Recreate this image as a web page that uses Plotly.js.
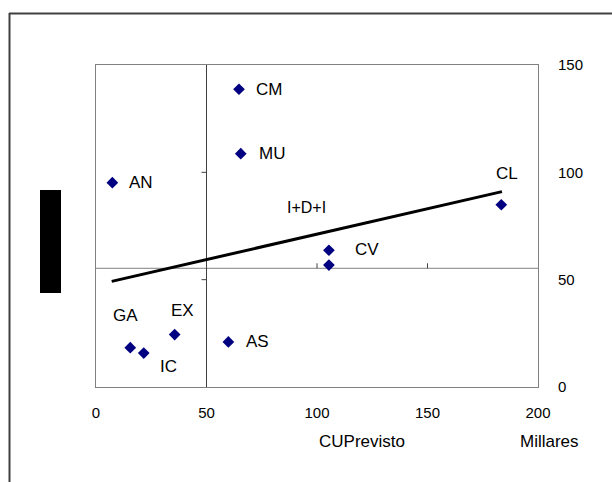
<!DOCTYPE html>
<html>
<head>
<meta charset="utf-8">
<script src="https://cdn.plot.ly/plotly-3.0.1.min.js"></script>
<style>html,body{margin:0;padding:0;background:#fff;}#chart{width:612px;height:482px;}</style>
</head>
<body>
<div id="chart"></div>
<script>
// ---- data ----
const labels = ["CM", "MU", "AN", "CV", "I+D+I", "CL", "GA", "IC", "EX", "AS"];
const xValues = [64.7, 65.5, 7.4, 105.4, 105.4, 183.4, 15.5, 21.6, 35.6, 59.9];
const yValues = [138.7, 108.7, 95.2, 63.7, 56.8, 84.9, 18.3, 15.8, 24.4, 21.0];
const trendX = [7.1, 183.7];
const trendY = [49.2, 91.0];
const xTicks = [0, 50, 100, 150, 200];
const yTicks = [0, 50, 100, 150];
const xTitle = "CUPrevisto";
const unitLabel = "Millares";
const xCross = 50;
const yCross = 55.3;

// ---- layout helpers (pixel -> paper) ----
const W = 612, H = 482;
const px = v => v / W;
const py = v => 1 - v / H;

// label offsets in pixels (dx right, dy down)
const labelOffset = {
  "CM": [30, 0], "MU": [31, 0], "AN": [29, 0], "CV": [38, -1], "I+D+I": [-22, -58],
  "CL": [6, -31], "GA": [-5, -32], "IC": [25, 13], "EX": [8, -24], "AS": [29, 0]
};
const labelSize = {"I+D+I": 16};

const font = "Liberation Sans, Arial, sans-serif";

const traces = [
  {
    type: "scatter", mode: "lines", x: trendX, y: trendY,
    line: {color: "#000000", width: 3}, hoverinfo: "skip", showlegend: false
  },
  {
    type: "scatter", mode: "markers", x: xValues, y: yValues, text: labels,
    marker: {symbol: "diamond", color: "#000080", size: 9}, showlegend: false
  }
];

const annotations = labels.map((t, i) => ({
  x: xValues[i], y: yValues[i], xref: "x", yref: "y", text: t, showarrow: false,
  xshift: labelOffset[t][0], yshift: -labelOffset[t][1],
  font: {family: font, size: labelSize[t] || 17, color: "#000"}
}));
annotations.push(
  {x: px(362), y: py(453), xref: "paper", yref: "paper", text: xTitle, showarrow: false,
   font: {family: font, size: 17, color: "#000"}},
  {x: px(581), y: py(453), xref: "paper", yref: "paper", text: unitLabel, showarrow: false,
   font: {family: font, size: 17, color: "#000"}}
);

const shapes = [
  // outer frame
  {type: "line", xref: "paper", yref: "paper", x0: px(9.5), x1: px(9.5), y0: py(13), y1: 0,
   line: {color: "#404040", width: 2}},
  {type: "line", xref: "paper", yref: "paper", x0: px(9), x1: 1, y0: py(13.5), y1: py(13.5),
   line: {color: "#404040", width: 2}},
  // black block at left
  {type: "rect", xref: "paper", yref: "paper", x0: px(40), x1: px(61), y0: py(293), y1: py(190),
   fillcolor: "#000", line: {width: 0}},
  // crossing axes
  {type: "line", xref: "x", yref: "y", x0: 0, x1: 200, y0: yCross, y1: yCross,
   line: {color: "#808080", width: 1}, layer: "below"},
  {type: "line", xref: "x", yref: "y", x0: xCross, x1: xCross, y0: 0, y1: 150,
   line: {color: "#404040", width: 1}, layer: "below"},
  {type: "line", xref: "x", yref: "y", x0: xCross, x1: xCross, ysizemode: "pixel", yanchor: 0, y0: 0, y1: -3,
   line: {color: "#000", width: 2}}
];
xTicks.filter(v => v > 0 && v < 200 && v !== xCross).forEach(v => shapes.push({
  type: "line", xref: "x", yref: "y", x0: v, x1: v, ysizemode: "pixel", yanchor: yCross, y0: 0, y1: 5,
  line: {color: "#404040", width: 1}
}));
yTicks.filter(v => v > 0 && v < 150).forEach(v => shapes.push({
  type: "line", xref: "x", yref: "y", y0: v, y1: v, xsizemode: "pixel", xanchor: xCross, x0: -5, x1: 0,
  line: {color: "#404040", width: 1}
}));

const layout = {
  width: W, height: H,
  margin: {l: 0, r: 0, t: 0, b: 0},
  paper_bgcolor: "#fff", plot_bgcolor: "#fff",
  showlegend: false,
  xaxis: {
    domain: [px(96), px(538)], range: [0, 200], tickvals: xTicks, ticks: "",
    showgrid: false, zeroline: false, showline: true, mirror: true, linecolor: "#808080", linewidth: 1,
    ticklabelstandoff: 12, tickfont: {family: font, size: 15, color: "#000"}, fixedrange: true
  },
  yaxis: {
    domain: [py(387), py(65)], range: [0, 150], tickvals: yTicks, ticks: "", side: "right",
    showgrid: false, zeroline: false, showline: true, mirror: true, linecolor: "#808080", linewidth: 1,
    ticklabelstandoff: 16, tickfont: {family: font, size: 15, color: "#000"}, fixedrange: true
  },
  annotations: annotations,
  shapes: shapes
};

Plotly.newPlot("chart", traces, layout, {displayModeBar: false, staticPlot: true});
</script>
</body>
</html>
